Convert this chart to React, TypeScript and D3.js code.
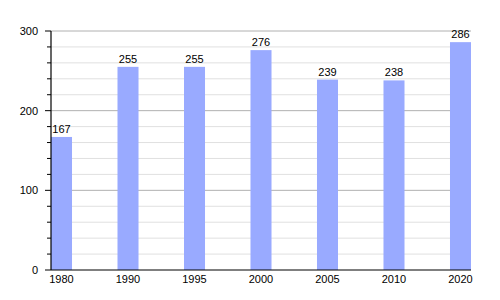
import React from "react";
import * as d3 from "d3";

const years = ["1980", "1990", "1995", "2000", "2005", "2010", "2020"];
const values = [167, 255, 255, 276, 239, 238, 286];
const majorTicks = [0, 100, 200, 300];
const minorTicks = [20, 40, 60, 80, 120, 140, 160, 180, 220, 240, 260, 280];

export default function App() {
  const W = 500, H = 300;
  const left = 51, right = 471, top = 31, bottom = 270;
  const x = d3.scaleBand<string>().domain(years).range([left, right]).paddingInner(0.684).paddingOuter(0);
  const y = d3.scaleLinear().domain([0, 300]).range([bottom, top]);
  const font = "Liberation Sans, Arial, sans-serif";
  return (
    <svg width={W} height={H} style={{ position: "absolute", left: 0, top: 0 }} fontFamily={font}>
      <rect width={W} height={H} fill="#fff" />
      {minorTicks.map((t) => (
        <g key={"m" + t}>
          <line x1={left} x2={right} y1={y(t)} y2={y(t)} stroke="#e0e0e0" strokeWidth={1} />
          <line x1={left - 4} x2={left} y1={y(t)} y2={y(t)} stroke="#000" strokeWidth={1} />
        </g>
      ))}
      {majorTicks.map((t) => (
        <g key={"M" + t}>
          {t > 0 && <line x1={left} x2={right} y1={y(t)} y2={y(t)} stroke="#b0b0b0" strokeWidth={1} />}
          <line x1={left - 6} x2={left} y1={y(t)} y2={y(t)} stroke="#000" strokeWidth={1} />
          <text x={left - 13} y={y(t) + 4} fontSize={11} textAnchor="end" fill="#000">{t}</text>
        </g>
      ))}
      {years.map((yr, i) => (
        <g key={yr}>
          <rect x={x(yr)} y={y(values[i])} width={x.bandwidth()} height={bottom - y(values[i])} fill="#99aaff" />
          <text x={(x(yr) as number) + x.bandwidth() / 2} y={y(values[i]) - 4} fontSize={11} textAnchor="middle" fill="#000">{values[i]}</text>
          <text x={(x(yr) as number) + x.bandwidth() / 2} y={bottom + 13} fontSize={11} textAnchor="middle" fill="#000">{yr}</text>
        </g>
      ))}
      <line x1={left} x2={left} y1={top} y2={bottom} stroke="#000" strokeWidth={1.2} />
      <line x1={left} x2={right} y1={bottom} y2={bottom} stroke="#000" strokeWidth={1.2} />
    </svg>
  );
}
